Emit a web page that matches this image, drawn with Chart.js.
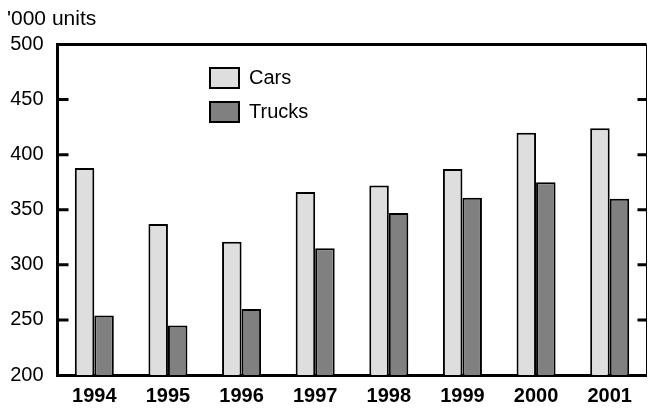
<!DOCTYPE html>
<html>
<head>
<meta charset="utf-8">
<script src="https://cdn.jsdelivr.net/npm/chart.js@4.4.1/dist/chart.umd.min.js"></script>
<style>
  html, body { margin: 0; padding: 0; background: #fff; }
  #wrap { width: 648px; height: 412px; }
</style>
</head>
<body>
<div id="wrap"><canvas id="chart" width="648" height="412"></canvas></div>
<script>
// values ('000 units)
var years = ["1994", "1995", "1996", "1997", "1998", "1999", "2000", "2001"];
var cars = [388, 337, 321, 366, 372, 387, 420, 424];
var trucks = [254, 245, 260, 315, 347, 361, 375, 360];
var unitLabel = "'000 units";
var yMin = 200, yMax = 500, yStep = 50;

var FONT = "'Liberation Sans', Arial, Helvetica, sans-serif";

// frame, inward ticks, unit label and the legend inside the plot
var extras = {
  id: 'extras',
  afterDraw: function(chart) {
    var ctx = chart.ctx, a = chart.chartArea, y = chart.scales.y;
    ctx.save();
    ctx.strokeStyle = '#000';
    ctx.lineWidth = 3;
    ctx.beginPath();
    ctx.moveTo(a.left - 1.5, a.top);
    ctx.lineTo(a.right, a.top);
    ctx.stroke();
    ctx.lineWidth = 1;
    ctx.beginPath();
    ctx.moveTo(a.right, a.top);
    ctx.lineTo(a.right, a.bottom);
    ctx.stroke();
    ctx.lineWidth = 3;
    for (var v = yMin + yStep; v < yMax; v += yStep) {
      var py = y.getPixelForValue(v);
      ctx.beginPath();
      ctx.moveTo(a.left, py); ctx.lineTo(a.left + 11, py);
      ctx.moveTo(a.right - 9, py); ctx.lineTo(a.right, py);
      ctx.stroke();
    }
    ctx.fillStyle = '#000';
    ctx.font = '21px ' + FONT;
    ctx.textBaseline = 'middle';
    ctx.textAlign = 'left';
    ctx.fillText(unitLabel, 7, 19);

    // legend
    chart.data.datasets.forEach(function(ds, i) {
      var bx = 210, by = 68 + i * 34;
      ctx.fillStyle = ds.backgroundColor;
      ctx.fillRect(bx, by, 29, 20);
      ctx.lineWidth = 2;
      ctx.strokeStyle = '#000';
      ctx.strokeRect(bx, by, 29, 20);
      ctx.fillStyle = '#000';
      ctx.font = '20px ' + FONT;
      ctx.fillText(ds.label, 249, by + 10);
    });
    ctx.restore();
  }
};

new Chart(document.getElementById('chart'), {
  type: 'bar',
  data: {
    labels: years,
    datasets: [
      { label: 'Cars', data: cars, backgroundColor: '#dedede', borderColor: '#000', borderWidth: 2 },
      { label: 'Trucks', data: trucks, backgroundColor: '#808080', borderColor: '#000', borderWidth: 2 }
    ]
  },
  options: {
    responsive: false,
    animation: false,
    events: [],
    layout: { padding: { top: 44.5, right: 1.5, left: 0, bottom: 0 } },
    datasets: { bar: { categoryPercentage: 0.53, barPercentage: 1.0 } },
    plugins: { legend: { display: false }, tooltip: { enabled: false } },
    scales: {
      x: {
        grid: { drawOnChartArea: false, drawTicks: false },
        border: { display: true, color: '#000', width: 3 },
        ticks: { color: '#000', font: { family: FONT, size: 20, weight: 'bold' }, padding: 9 },
        afterFit: function(s) { s.height = 37; }
      },
      y: {
        min: yMin, max: yMax,
        grid: { drawOnChartArea: false, drawTicks: false },
        border: { display: true, color: '#000', width: 3 },
        ticks: { stepSize: yStep, color: '#000', font: { family: FONT, size: 20 }, padding: 14 },
        afterFit: function(s) { s.width = 57.5; }
      }
    }
  },
  plugins: [extras]
});
</script>
</body>
</html>
